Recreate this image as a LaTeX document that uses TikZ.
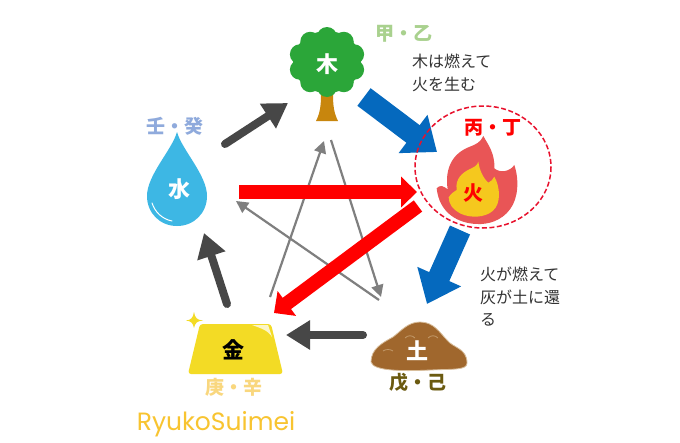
\documentclass[tikz,border=0pt]{standalone}
\usepackage{fontspec}
\setmainfont{Noto Sans}
\newfontfamily\cjk{Noto Sans CJK JP}
\newfontfamily\signfont{Poppins}
\usetikzlibrary{arrows.meta}
\definecolor{bluearrow}{HTML}{0569BE}
\definecolor{darkarrow}{HTML}{474747}
\definecolor{grayarrow}{HTML}{7F7F7F}
\definecolor{treegreen}{HTML}{2BA639}
\definecolor{trunk}{HTML}{C8860D}
\definecolor{dropblue}{HTML}{3DB7E4}
\definecolor{flame}{HTML}{E95556}
\definecolor{flamein}{HTML}{F5C81E}
\definecolor{soil}{HTML}{A0672D}
\definecolor{soiledge}{HTML}{D8BE9C}
\definecolor{soilline}{HTML}{C39A6B}
\definecolor{gold}{HTML}{F3DB25}
\definecolor{ringred}{HTML}{E8112D}
\definecolor{woodlab}{HTML}{A9D18E}
\definecolor{waterlab}{HTML}{8FAADC}
\definecolor{metallab}{HTML}{F9D77E}
\definecolor{earthlab}{HTML}{6B5A10}
\definecolor{signcol}{HTML}{F8C430}
\tikzset{
  x=1pt,y=-1pt,
  lab/.style={font=\cjk\bfseries\fontsize{19}{19}\selectfont,inner sep=0pt},
  elem/.style={font=\cjk\bfseries\fontsize{22}{22}\selectfont,inner sep=0pt},
  note/.style={font=\cjk\fontsize{16}{22.5}\selectfont,text=black!80,align=left,anchor=north west,inner sep=0pt},
  bluearr/.style={draw=bluearrow,line width=22pt,-{Triangle[length=30pt,width=46pt]}},
  redarr/.style={draw=red,line width=14pt,-{Triangle[length=16pt,width=30pt]}},
  darkarr/.style={draw=darkarrow,line width=8pt,line cap=round,-{Triangle[length=24pt,width=28pt]}},
  grayarr/.style={draw=grayarrow,line width=2.2pt,-{Triangle[length=12pt,width=12pt]}},
}
\begin{document}
\begin{tikzpicture}
\useasboundingbox[fill=white] (0,0) rectangle (680,442);
% coordinates
\coordinate (wb1) at (364,97);   \coordinate (wb2) at (437,152);
\coordinate (fb1) at (460,230);  \coordinate (fb2) at (427,304);
\coordinate (rh1) at (239,192);  \coordinate (rh2) at (417,192);
\coordinate (rd1) at (418,206);  \coordinate (rd2) at (274,313);
\coordinate (da1) at (225,144);  \coordinate (da2) at (288,103);
\coordinate (db1) at (227,304);  \coordinate (db2) at (204,233);
\coordinate (dc1) at (363,335);  \coordinate (dc2) at (286,335);
\coordinate (ga1) at (270,297);  \coordinate (ga2) at (324,141);
\coordinate (gb1) at (331,140);  \coordinate (gb2) at (381,297);
\coordinate (gc1) at (379,300);  \coordinate (gc2) at (236,201);
% thin star
\draw[grayarr] (ga1) -- (ga2);
\draw[grayarr] (gb1) -- (gb2);
\draw[grayarr] (gc1) -- (gc2);
% dark arrows
\draw[darkarr] (da1) -- (da2);
\draw[darkarr] (db1) -- (db2);
\draw[darkarr] (dc1) -- (dc2);
% tree
\fill[trunk] (321,94) .. controls (321,106) and (320,113) .. (316,121) -- (338,121) .. controls (334,113) and (333,106) .. (333,94) -- cycle;
\fill[treegreen] (327,62) ellipse [x radius=34,y radius=31];
\foreach \a in {0,36,...,324}{\fill[treegreen] ({327+28.5*cos(\a+18)},{62+25*sin(\a+18)}) circle (10);}
% drop
\fill[dropblue] (177,132) .. controls (172,150) and (147,175) .. (147,196) .. controls (147,213) and (160,226) .. (177,226) .. controls (194,226) and (207,213) .. (207,196) .. controls (207,175) and (182,150) .. (177,132) -- cycle;
\draw[white,line width=1pt,line cap=round] (152,203) .. controls (155,212) and (162,219) .. (172,221);
% fire
\begin{scope}[shift={(400,110)},x=0.3333pt,y=-0.3333pt]
\fill[flame] (250,78) .. controls (265,105) and (285,130) .. (283,175) .. controls (300,190) and (330,185) .. (343,165) .. controls (358,210) and (355,265) .. (330,298) .. controls (305,332) and (265,344) .. (230,342) .. controls (175,340) and (118,310) .. (110,235) .. controls (120,222) and (133,230) .. (143,238) .. controls (135,185) and (150,135) .. (205,112) .. controls (225,104) and (242,98) .. (250,78) -- cycle;
\fill[flamein] (235,155) .. controls (238,180) and (250,205) .. (265,218) .. controls (272,215) and (280,208) .. (283,200) .. controls (300,230) and (305,280) .. (278,303) .. controls (255,323) and (212,325) .. (182,311) .. controls (158,298) and (146,282) .. (146,262) .. controls (153,250) and (163,245) .. (170,240) .. controls (165,205) and (188,188) .. (208,178) .. controls (220,172) and (232,168) .. (235,155) -- cycle;
\end{scope}
% earth
\draw[soiledge,fill=soil,line width=0.8pt] (371,362) .. controls (371,349) and (382,343) .. (393,337) .. controls (401,331) and (408,322) .. (420,322) .. controls (434,322) and (440,333) .. (447,340) .. controls (453,348) and (467,348) .. (467,363) .. controls (467,370) and (455,369) .. (430,370) .. controls (410,371) and (373,372) .. (371,362) -- cycle;
\draw[soilline,line width=0.8pt] (383,351) .. controls (386,349) and (390,349) .. (393,351);
\draw[soilline,line width=0.8pt] (405,338) .. controls (408,335) and (412,335) .. (415,338);
\draw[soilline,line width=0.8pt] (428,338) .. controls (431,335) and (435,335) .. (438,338);
% gold
\fill[gold,rounded corners=3pt] (200,324) -- (271,324) -- (283,374) -- (188,374) -- cycle;
\fill[white,opacity=.75] (252,325) -- (268,325) -- (272,337) .. controls (268,330) and (260,328) .. (252,325) -- cycle;
\fill[gold] (194,312) .. controls (195,318) and (197,320) .. (203,320.5) .. controls (197,321) and (195,323) .. (194,328) .. controls (193,323) and (191,321) .. (186,320.5) .. controls (191,320) and (193,318) .. (194,312) -- cycle;
% block arrows
\draw[bluearr] (wb1) -- (wb2);
\draw[bluearr] (fb1) -- (fb2);
\draw[redarr] (rh1) -- (rh2);
\draw[redarr] (rd1) -- (rd2);
% dashed circle
\draw[draw=ringred,line width=1.5pt,dash pattern=on 5pt off 2.5pt] (483,167) ellipse [x radius=68,y radius=61];
% labels
\node[elem,text=white] (moku) at (327,64) {木};
\node[elem,text=white] (sui) at (179,189) {水};
\node[elem,text=red,font=\cjk\bfseries\fontsize{20}{20}\selectfont] (ka) at (473,193) {火};
\node[elem,text=black] (kin) at (233,350) {金};
\node[elem,text=white] (do) at (417,351) {土};
\node[lab,text=woodlab] (l1) at (404,34) {甲・乙};
\node[lab,text=red] (l2) at (493,128) {丙・丁};
\node[lab,text=waterlab] (l3) at (175,126) {壬・癸};
\node[lab,text=metallab] (l4) at (234,387) {庚・辛};
\node[lab,text=earthlab] (l5) at (418,383) {戊・己};
\node[note] (n1) at (412,54) {木は燃えて\\火を生む};
\node[note] (n2) at (480,267) {火が燃えて\\灰が土に還\\る};
\node[inner sep=0pt,text=signcol,font=\signfont\fontsize{25}{25}\selectfont] (sig) at (216,424) {RyukoSuimei};
\end{tikzpicture}
\end{document}
